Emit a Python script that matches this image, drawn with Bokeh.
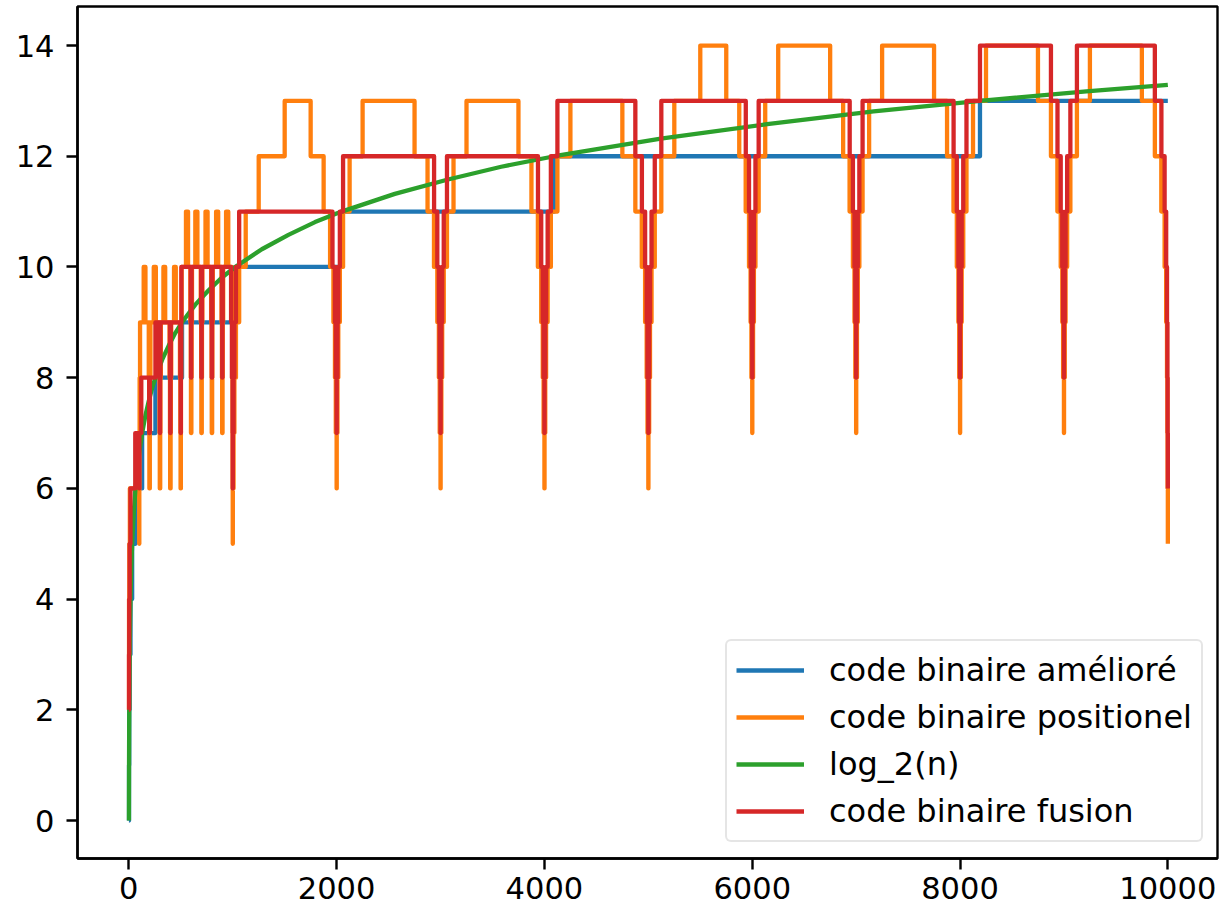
from bokeh.plotting import figure
from bokeh.models import Range1d, FixedTicker
from bokeh.embed import file_html
from bokeh.resources import INLINE

# ---------------- data ----------------
x_ticks = [0, 2000, 4000, 6000, 8000, 10000]
y_ticks = [0, 2, 4, 6, 8, 10, 12, 14]

labels = ["code binaire amélioré", "code binaire positionel", "log_2(n)", "code binaire fusion"]
colors = ["#1f77b4", "#ff7f0e", "#2ca02c", "#d62728"]

# "code binaire amélioré": step breakpoints (n, value)
blue_steps = [(1, 0), (2, 1), (4, 2), (8, 3), (16, 4), (32, 5), (64, 6), (128, 7), (256, 8),
              (512, 9), (1024, 10), (2048, 11), (4096, 12), (8192, 13), (10000, 13)]

# "log_2(n)": points
green_n = [1, 2, 3, 4, 6, 8, 12, 16, 24, 32, 48, 64, 96, 128, 160, 192, 224, 256, 320, 384, 448,
           512, 640, 768, 896, 1024, 1280, 1536, 1792, 2048, 2560, 3072, 3584, 4096, 5120, 6144,
           7168, 8192, 9216, 10000]
green_v = [0, 1, 1.58, 2, 2.58, 3, 3.58, 4, 4.58, 5, 5.58, 6, 6.58, 7, 7.32, 7.58, 7.81, 8, 8.32,
           8.58, 8.81, 9, 9.32, 9.58, 9.81, 10, 10.32, 10.58, 10.81, 11, 11.32, 11.58, 11.81, 12,
           12.32, 12.58, 12.81, 13, 13.17, 13.29]

# "code binaire positionel": step breakpoints (n, value), n < 1000
orange_low = [
    (1, 2), (2, 4), (5, 5), (10, 6), (100, 5), (101, 6), (102, 7), (104, 8), (108, 9),
    (143, 10), (160, 9),
    (192, 8), (196, 7), (198, 6), (202, 7), (204, 8), (208, 9),
    (240, 10), (260, 9),
    (292, 8), (296, 7), (298, 6), (302, 7), (304, 8), (308, 9),
    (333, 10), (350, 9),
    (392, 8), (396, 7), (398, 6), (402, 7), (404, 8), (408, 9),
    (435, 10), (452, 9),
    (492, 8), (496, 7), (498, 6), (501, 7), (502, 8), (504, 9), (508, 10),
    (550, 11), (570, 10),
    (592, 9), (596, 8), (598, 7), (602, 8), (604, 9), (608, 10),
    (640, 11), (660, 10),
    (692, 9), (696, 8), (698, 7), (702, 8), (704, 9), (708, 10),
    (738, 11), (758, 10),
    (792, 9), (796, 8), (798, 7), (802, 8), (804, 9), (808, 10),
    (840, 11), (860, 10),
    (892, 9), (896, 8), (898, 7), (902, 8), (904, 9), (908, 10),
    (936, 11), (957, 10),
    (992, 9), (996, 8), (998, 7), (999, 6),
]
# n >= 1000
orange_high = [
    (1000, 5), (1001, 6), (1008, 7), (1016, 8), (1031, 9), (1062, 10), (1125, 11), (1250, 12), (1500, 13),
    (1750, 12), (1875, 11), (1937, 10), (1969, 9), (1984, 8), (1992, 7),
    (2000, 6), (2001, 7), (2008, 8), (2016, 9), (2031, 10), (2062, 11), (2125, 12), (2250, 13),
    (2750, 12), (2875, 11), (2937, 10), (2969, 9), (2984, 8), (2992, 7),
    (3000, 6), (3001, 7), (3008, 8), (3016, 9), (3031, 10), (3062, 11), (3125, 12), (3250, 13),
    (3750, 12), (3875, 11), (3937, 10), (3969, 9), (3984, 8), (3992, 7),
    (4000, 6), (4001, 7), (4008, 8), (4016, 9), (4031, 10), (4062, 11), (4125, 12), (4250, 13),
    (4750, 12), (4875, 11), (4937, 10), (4969, 9), (4984, 8), (4992, 7),
    (5000, 6), (5001, 7), (5008, 8), (5016, 9), (5031, 10), (5062, 11), (5125, 12), (5250, 13), (5500, 14),
    (5750, 13), (5875, 12), (5937, 11), (5969, 10), (5984, 9), (5992, 8),
    (6000, 7), (6001, 8), (6008, 9), (6016, 10), (6031, 11), (6062, 12), (6125, 13), (6250, 14),
    (6750, 13), (6875, 12), (6937, 11), (6969, 10), (6984, 9), (6992, 8),
    (7000, 7), (7001, 8), (7008, 9), (7016, 10), (7031, 11), (7062, 12), (7125, 13), (7250, 14),
    (7750, 13), (7875, 12), (7937, 11), (7969, 10), (7984, 9), (7992, 8),
    (8000, 7), (8001, 8), (8008, 9), (8016, 10), (8031, 11), (8062, 12), (8125, 13), (8250, 14),
    (8750, 13), (8875, 12), (8937, 11), (8969, 10), (8984, 9), (8992, 8),
    (9000, 7), (9001, 8), (9008, 9), (9016, 10), (9031, 11), (9062, 12), (9125, 13), (9250, 14),
    (9750, 13), (9875, 12), (9937, 11), (9969, 10), (9984, 9), (9992, 8), (9996, 7), (9998, 6),
    (10000, 5),
]

# "code binaire fusion": step breakpoints (n, value)
red_low = [
    (1, 2), (2, 3), (4, 4), (8, 5), (16, 6), (62, 7), (100, 6), (101, 7), (120, 8),
    (196, 7), (202, 8), (256, 9),
    (296, 8), (299, 7), (301, 8), (304, 9),
    (396, 8), (399, 7), (401, 8), (404, 9),
    (496, 8), (499, 7), (501, 8), (503, 9), (506, 10),
    (596, 9), (599, 8), (601, 9), (604, 10),
    (696, 9), (699, 8), (701, 9), (704, 10),
    (796, 9), (799, 8), (801, 9), (804, 10),
    (896, 9), (899, 8), (901, 9), (904, 10),
    (984, 9), (992, 8), (999, 7),
]
red_high = [
    (1000, 6), (1001, 7), (1008, 8), (1016, 9), (1031, 10), (1062, 11),
    (1960, 10), (1984, 9), (1992, 8),
    (2000, 7), (2001, 8), (2008, 9), (2016, 10), (2031, 11), (2062, 12),
    (2938, 11), (2969, 10), (2984, 9), (2992, 8),
    (3000, 7), (3001, 8), (3008, 9), (3016, 10), (3031, 11), (3062, 12),
    (3938, 11), (3969, 10), (3984, 9), (3992, 8),
    (4000, 7), (4001, 8), (4008, 9), (4016, 10), (4031, 11), (4062, 12), (4125, 13),
    (4875, 12), (4938, 11), (4969, 10), (4984, 9), (4992, 8),
    (5000, 7), (5001, 8), (5008, 9), (5016, 10), (5031, 11), (5062, 12), (5125, 13),
    (5938, 12), (5969, 11), (5984, 10), (5992, 9),
    (6000, 8), (6001, 9), (6008, 10), (6016, 11), (6031, 12), (6062, 13),
    (6938, 12), (6969, 11), (6984, 10), (6992, 9),
    (7000, 8), (7001, 9), (7008, 10), (7016, 11), (7031, 12), (7062, 13),
    (7938, 12), (7969, 11), (7984, 10), (7992, 9),
    (8000, 8), (8001, 9), (8008, 10), (8016, 11), (8031, 12), (8062, 13), (8192, 14),
    (8875, 13), (8938, 12), (8969, 11), (8984, 10), (8992, 9),
    (9000, 8), (9001, 9), (9008, 10), (9016, 11), (9031, 12), (9062, 13), (9125, 14),
    (9875, 13), (9938, 12), (9969, 11), (9984, 10), (9992, 9), (9996, 8), (9998, 7),
    (10000, 6),
]


def split(pairs):
    return [a for a, _ in pairs], [b for _, b in pairs]


blue_x, blue_y = split(blue_steps)
orange_x, orange_y = split(orange_low + orange_high)
red_x, red_y = split(red_low + red_high)

# ---------------- figure ----------------
FONT = "DejaVu Sans"
p = figure(width=1223, height=911, output_backend="svg", toolbar_location=None,
           x_range=Range1d(-494, 10478), y_range=Range1d(-0.686, 14.705),
           min_border_left=77, min_border_right=6, min_border_top=6, min_border_bottom=53,
           background_fill_color="white", border_fill_color="white")

LW = 4.3
p.step(blue_x, blue_y, mode="after", line_color=colors[0], line_width=LW, line_join="round",
       legend_label=labels[0])
p.step(orange_x, orange_y, mode="after", line_color=colors[1], line_width=LW, line_join="round",
       legend_label=labels[1])
p.line(green_n, green_v, line_color=colors[2], line_width=LW, line_join="round",
       legend_label=labels[2])
p.step(red_x, red_y, mode="after", line_color=colors[3], line_width=LW, line_join="round",
       legend_label=labels[3])

p.grid.visible = False
p.outline_line_color = "black"
p.outline_line_width = 2.4

p.xaxis.ticker = FixedTicker(ticks=x_ticks)
p.yaxis.ticker = FixedTicker(ticks=y_ticks)
for ax in (p.xaxis[0], p.yaxis[0]):
    ax.axis_line_color = "black"
    ax.axis_line_width = 2.4
    ax.major_tick_line_color = "black"
    ax.major_tick_line_width = 2.4
    ax.major_tick_in = 0
    ax.major_tick_out = 11
    ax.minor_tick_line_color = None
    ax.major_label_text_font = FONT
    ax.major_label_text_font_size = "30.5px"
    ax.major_label_text_color = "black"
p.xaxis.major_label_standoff = 7
p.yaxis.major_label_standoff = 12

lg = p.legend[0]
lg.location = (648, 16)
lg.margin = 0
lg.padding = 9
lg.spacing = 7
lg.glyph_width = 68
lg.glyph_height = 40
lg.label_height = 40
lg.label_standoff = 25
lg.label_text_font = FONT
lg.label_text_font_size = "32px"
lg.label_text_color = "black"
lg.border_line_color = "#cccccc"
lg.border_line_width = 2
lg.background_fill_alpha = 0.8
if "border_radius" in lg.properties():
    lg.border_radius = 6

open("out.html", "w").write(file_html(p, INLINE))
